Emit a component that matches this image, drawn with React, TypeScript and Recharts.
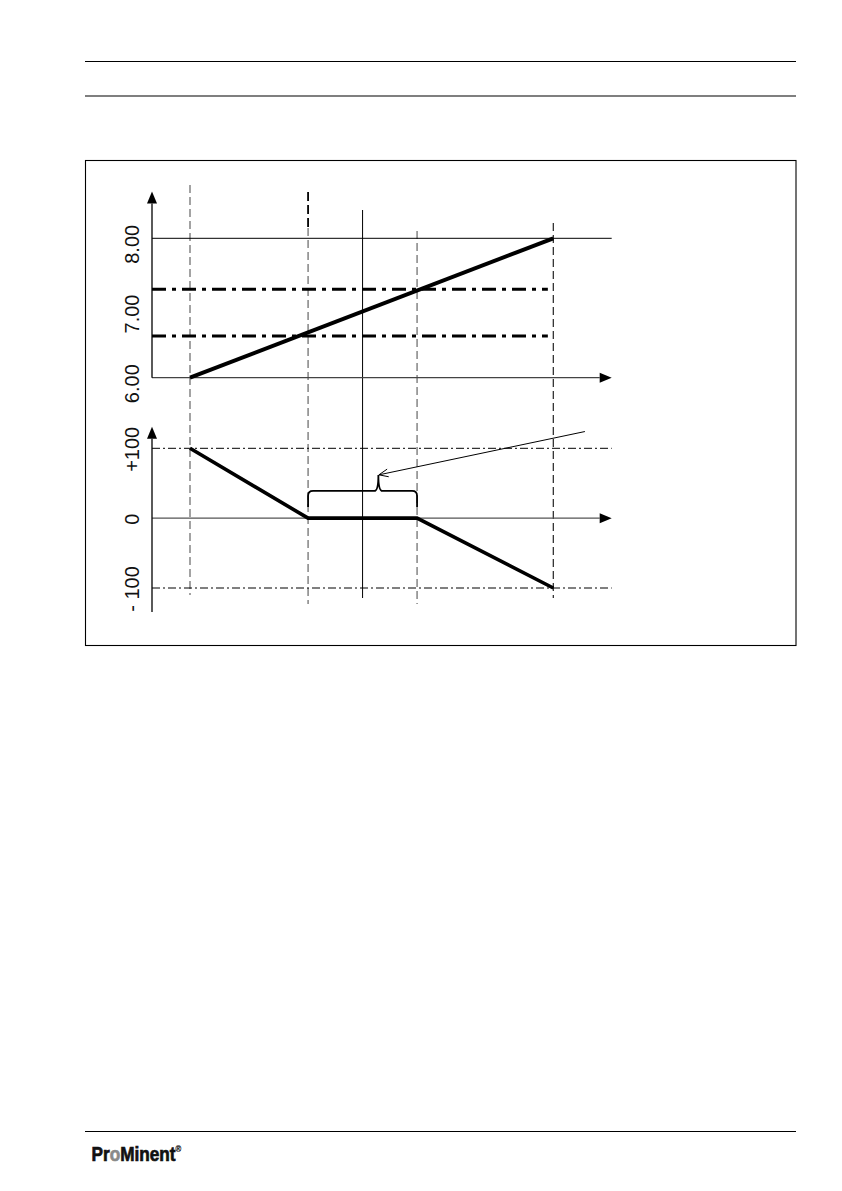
import React from "react";
import { ComposedChart, Line, XAxis, YAxis, ReferenceLine } from "recharts";

// pH ramp (measured value)
const rampX = [6.0, 8.0];
const rampPh = [6.0, 8.0];
// controller output in % over the same pH span
const outX = [6.0, 6.65, 7.25, 8.0];
const outPct = [100, 0, 0, -100];
// limit values (dash-dot lines)
const limitPh = [6.6, 7.27];
// vertical guides (pH)
const guideX = [6.0, 6.65, 6.95, 7.25, 8.0];
const phTicks = [6, 7, 8];
const phTickLabels = ["6.00", "7.00", "8.00"];
const outTicks = [-100, 0, 100];
const outTickLabels = ["- 100", "0", "+100"];
// annotation: brace over the neutral zone and the arrow pointing at it
const braceX = [6.65, 7.25];
const braceOut = 39;
const arrowX = [8.174, 7.04];
const arrowOut = [124, 62];

const FONT = "'Liberation Sans', Arial, Helvetica, sans-serif";
const W = 842;
const H = 660;
const PLOT = { left: 152, right: 611.7, top: 185, bottom: 612 };

// linear domain so that value a sits at pixel pa and b at pb
function fit(a: number, pa: number, b: number, pb: number, lo: number, hi: number): [number, number] {
  const k = (b - a) / (pb - pa);
  return [a + (lo - pa) * k, a + (hi - pa) * k];
}

const X_DOM = fit(6, 190, 8, 553.3, PLOT.left, PLOT.right);
const PH_DOM = fit(6, 377.7, 8, 238.3, PLOT.bottom, PLOT.top);
const OUT_DOM = fit(-100, 588, 100, 448.3, PLOT.bottom, PLOT.top);
const PH_AXIS_TOP = 8.67;
const OUT_AXIS_TOP = 131;
const LIMIT_END_X = 7.97;

const guideStyle = [
  { top: 185, bottom: 595, stroke: "#666", width: 1.2, dash: "8 4" },
  { top: 228, bottom: 604, stroke: "#666", width: 1.2, dash: "8 4", cap: 192 },
  { top: 210, bottom: 598, stroke: "#000", width: 1, dash: undefined },
  { top: 231, bottom: 604, stroke: "#666", width: 1.2, dash: "8 4" },
  { top: 223, bottom: 598, stroke: "#222", width: 1.2, dash: "8 4" },
];

const LABEL_X = 132;

function makeTick(ticks: number[], labels: string[], dy: number) {
  return (p: any) => {
    const i = ticks.indexOf(p.payload.value);
    const y = p.y + dy;
    return (
      <text
        x={LABEL_X}
        y={y}
        transform={`rotate(-90 ${LABEL_X} ${y})`}
        textAnchor="middle"
        dominantBaseline="central"
        fontSize={20}
        fontFamily={FONT}
        fill="#111"
      >
        {labels[i]}
      </text>
    );
  };
}

function arrowLine(p: any) {
  const { x1, y1, x2, y2 } = p;
  const a = Math.atan2(y2 - y1, x2 - x1);
  const len = 12;
  const hw = 5;
  const bx = x2 - len * Math.cos(a);
  const by = y2 - len * Math.sin(a);
  const nx = -Math.sin(a) * hw;
  const ny = Math.cos(a) * hw;
  return (
    <g>
      <line x1={x1} y1={y1} x2={bx} y2={by} stroke={p.stroke} strokeWidth={p.strokeWidth} />
      <polygon points={`${x2},${y2} ${bx + nx},${by + ny} ${bx - nx},${by - ny}`} fill="#000" />
    </g>
  );
}

function openArrow(p: any) {
  const { x1, y1, x2, y2 } = p;
  const a = Math.atan2(y1 - y2, x1 - x2);
  const len = 10;
  const s = 0.4;
  return (
    <g stroke="#000" strokeWidth={1} fill="none">
      <line x1={x1} y1={y1} x2={x2} y2={y2} />
      <line x1={x2} y1={y2} x2={x2 + len * Math.cos(a + s)} y2={y2 + len * Math.sin(a + s)} />
      <line x1={x2} y1={y2} x2={x2 + len * Math.cos(a - s)} y2={y2 + len * Math.sin(a - s)} />
    </g>
  );
}

function braceShape(p: any) {
  const { x1, x2, y1: y } = p;
  const px = x1 + 0.645 * (x2 - x1);
  const d = 16;
  const r = 5;
  const path = [
    `M ${x1} ${y + d}`,
    `L ${x1} ${y + r}`,
    `Q ${x1} ${y} ${x1 + r} ${y}`,
    `L ${px - 4} ${y}`,
    `Q ${px} ${y} ${px} ${y - d}`,
    `Q ${px} ${y} ${px + 4} ${y}`,
    `L ${x2 - r} ${y}`,
    `Q ${x2} ${y} ${x2} ${y + r}`,
    `L ${x2} ${y + d}`,
  ].join(" ");
  return <path d={path} fill="none" stroke="#000" strokeWidth={1.8} />;
}

function guideShape(g: (typeof guideStyle)[number]) {
  return (p: any) => (
    <g>
      <line x1={p.x1} x2={p.x1} y1={g.top} y2={g.bottom} stroke={g.stroke} strokeWidth={g.width} strokeDasharray={g.dash} />
      {g.cap !== undefined && (
        <line x1={p.x1} x2={p.x1} y1={g.cap} y2={g.top} stroke="#000" strokeWidth={1.8} strokeDasharray="9 4" />
      )}
    </g>
  );
}

export default function App() {
  const phData = rampX.map((x, i) => ({ x, ph: rampPh[i] }));
  const outData = outX.map((x, i) => ({ x, out: outPct[i] }));

  return (
    <div style={{ position: "absolute", left: 0, top: 0, width: 842, height: 1191, background: "#fff" }}>
      <svg width={842} height={1191} style={{ position: "absolute", left: 0, top: 0 }}>
        <line x1={85} x2={796} y1={61.5} y2={61.5} stroke="#000" strokeWidth={1.2} />
        <line x1={85} x2={796} y1={96} y2={96} stroke="#000" strokeWidth={1.2} />
        <rect x={85.5} y={160.5} width={710.5} height={485} fill="none" stroke="#000" strokeWidth={1.1} />
        <line x1={85} x2={796} y1={1131.5} y2={1131.5} stroke="#000" strokeWidth={1.2} />
        <text
          transform="translate(91.5 1160.7) scale(0.86 1)"
          fontFamily={FONT}
          fontWeight="bold"
          fontSize={20}
          fill="#111"
          stroke="#111"
          strokeWidth={0.7}
        >
          Pr<tspan fill="#8a8a8a" stroke="#8a8a8a">o</tspan>Minent
          <tspan fontSize={9} dy={-9} strokeWidth={0.2}>®</tspan>
        </text>
      </svg>

      <div style={{ position: "absolute", left: 0, top: 0 }}>
        <ComposedChart
          width={W}
          height={H}
          margin={{ top: PLOT.top, right: W - PLOT.right, bottom: H - PLOT.bottom, left: PLOT.left - 60 }}
        >
          <XAxis type="number" dataKey="x" domain={X_DOM} hide allowDataOverflow />
          <YAxis
            yAxisId="ph"
            type="number"
            domain={PH_DOM}
            ticks={phTicks}
            interval={0}
            allowDataOverflow
            axisLine={false}
            tickLine={false}
            width={30}
            tick={makeTick(phTicks, phTickLabels, 6)}
          />
          <YAxis
            yAxisId="out"
            type="number"
            domain={OUT_DOM}
            ticks={outTicks}
            interval={0}
            allowDataOverflow
            axisLine={false}
            tickLine={false}
            width={30}
            tick={makeTick(outTicks, outTickLabels, 1)}
          />

          {guideX.map((x, i) => (
            <ReferenceLine key={`g${i}`} yAxisId="ph" x={x} ifOverflow="visible" shape={guideShape(guideStyle[i])} />
          ))}

          <ReferenceLine yAxisId="ph" y={8} stroke="#000" strokeWidth={1} ifOverflow="visible" />
          {limitPh.map((v, i) => (
            <ReferenceLine
              key={`l${i}`}
              yAxisId="ph"
              segment={[{ x: X_DOM[0], y: v }, { x: LIMIT_END_X, y: v }]}
              stroke="#000"
              strokeWidth={3}
              strokeDasharray="14 6 4 6"
              ifOverflow="visible"
            />
          ))}
          <ReferenceLine yAxisId="out" y={100} stroke="#000" strokeWidth={1} strokeDasharray="8 3 2 3" ifOverflow="visible" />
          <ReferenceLine yAxisId="out" y={-100} stroke="#000" strokeWidth={1} strokeDasharray="8 3 2 3" ifOverflow="visible" />

          {/* axes with arrow heads */}
          <ReferenceLine yAxisId="ph" y={6} stroke="#444" strokeWidth={1.3} ifOverflow="visible" shape={arrowLine} />
          <ReferenceLine
            yAxisId="ph"
            segment={[{ x: X_DOM[0], y: 6 }, { x: X_DOM[0], y: PH_AXIS_TOP }]}
            stroke="#000"
            strokeWidth={1.3}
            ifOverflow="visible"
            shape={arrowLine}
          />
          <ReferenceLine yAxisId="out" y={0} stroke="#555" strokeWidth={1.3} ifOverflow="visible" shape={arrowLine} />
          <ReferenceLine
            yAxisId="out"
            segment={[{ x: X_DOM[0], y: OUT_DOM[0] }, { x: X_DOM[0], y: OUT_AXIS_TOP }]}
            stroke="#000"
            strokeWidth={1.3}
            ifOverflow="visible"
            shape={arrowLine}
          />

          <ReferenceLine
            yAxisId="out"
            segment={[{ x: braceX[0], y: braceOut }, { x: braceX[1], y: braceOut }]}
            ifOverflow="visible"
            shape={braceShape}
          />
          <ReferenceLine
            yAxisId="out"
            segment={[{ x: arrowX[0], y: arrowOut[0] }, { x: arrowX[1], y: arrowOut[1] }]}
            ifOverflow="visible"
            shape={openArrow}
          />

          <Line
            yAxisId="ph"
            data={phData}
            dataKey="ph"
            type="linear"
            stroke="#000"
            strokeWidth={4}
            dot={false}
            activeDot={false}
            isAnimationActive={false}
          />
          <Line
            yAxisId="out"
            data={outData}
            dataKey="out"
            type="linear"
            stroke="#000"
            strokeWidth={3.6}
            dot={false}
            activeDot={false}
            isAnimationActive={false}
          />
        </ComposedChart>
      </div>
    </div>
  );
}
